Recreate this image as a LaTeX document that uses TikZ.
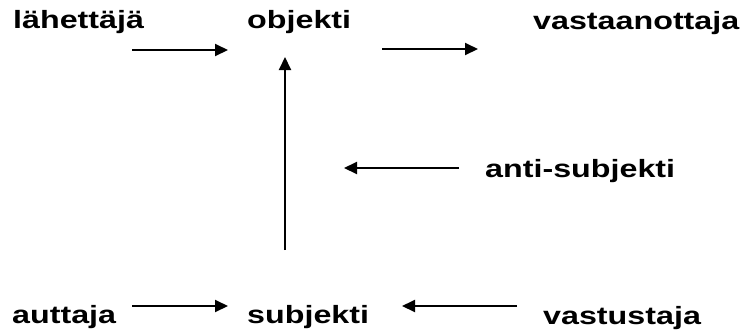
\documentclass[tikz,border=0pt]{standalone}
\usepackage{fontspec}
\setmainfont{Liberation Sans}[FakeStretch=1.29]
\usetikzlibrary{arrows.meta}
\begin{document}
\begin{tikzpicture}[x=1pt,y=-1pt,
  term/.style={anchor=base west,inner sep=0pt,font=\fontsize{25}{28}\selectfont\bfseries},
  arr/.style={line width=2pt,-{Triangle[length=13pt,width=12pt]}}]
\useasboundingbox (0,0) rectangle (742,333);
% actants
\node[term] (lah)  at (13,28)  {lähettäjä};
\node[term] (obj)  at (247,28) {objekti};
\node[term] (vas)  at (533,29) {vastaanottaja};
\node[term] (anti) at (485,177) {anti-subjekti};
\node[term] (aut)  at (12,323) {auttaja};
\node[term] (sub)  at (247,323) {subjekti};
\node[term] (vst)  at (543,324) {vastustaja};
% arrow end points between the rows
\coordinate (a1s) at (132,50);  \coordinate (a1e) at (228,50);
\coordinate (a2s) at (382,49);  \coordinate (a2e) at (478,49);
\coordinate (a3s) at (285,250); \coordinate (a3e) at (285,57);
\coordinate (a4s) at (459,168); \coordinate (a4e) at (344,168);
\coordinate (a5s) at (132,306); \coordinate (a5e) at (228,306);
\coordinate (a6s) at (517,306); \coordinate (a6e) at (402,306);
\draw[arr] (a1s) -- (a1e);
\draw[arr] (a2s) -- (a2e);
\draw[arr] (a3s) -- (a3e);
\draw[arr] (a4s) -- (a4e);
\draw[arr] (a5s) -- (a5e);
\draw[arr] (a6s) -- (a6e);
\end{tikzpicture}
\end{document}
